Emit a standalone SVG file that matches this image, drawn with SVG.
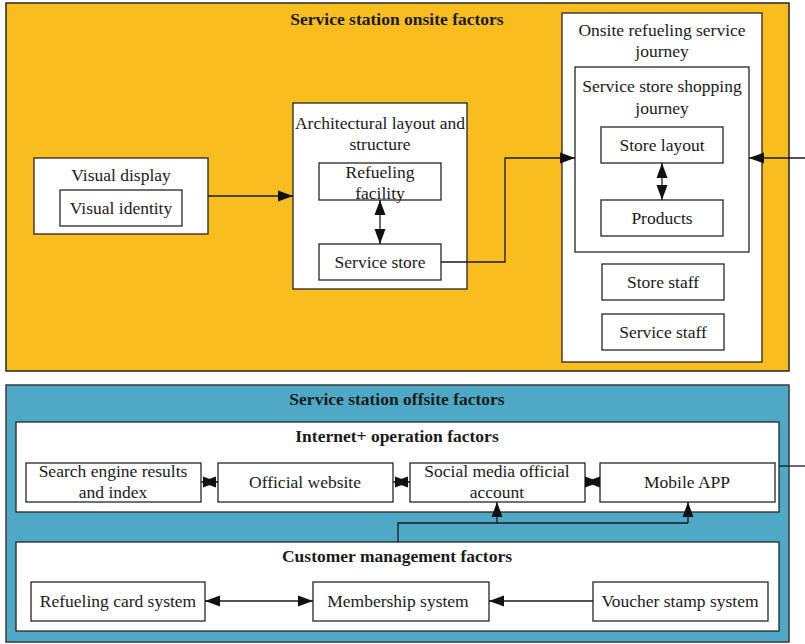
<svg xmlns="http://www.w3.org/2000/svg" width="805" height="644" viewBox="0 0 805 644">
  <style>
    text { font-family: "Liberation Serif", "Times New Roman", serif; font-size: 17.5px; fill: #1a1a1a; text-anchor: middle; }
    .title { font-weight: bold; }
    .box { fill: #ffffff; stroke: #262626; stroke-width: 1.3; }
    .onsite { fill: #F8BD1E; stroke: #262626; stroke-width: 1.5; }
    .offsite { fill: #4DA9C5; stroke: #3a3a3a; stroke-width: 1.5; }
    .wire { fill: none; stroke: #1a1a1a; stroke-width: 1.3; }
  </style>
  <defs>
    <marker id="head" markerUnits="userSpaceOnUse" markerWidth="16" markerHeight="12" refX="15" refY="6" orient="auto-start-reverse">
      <path d="M0,0.5 L15,6 L0,11.5 z" fill="#111"/>
    </marker>
  </defs>

  <!-- panels -->
  <g id="onsite-panel">
    <rect class="onsite" x="6" y="3" width="783" height="368"/>
    <text class="title" x="397" y="25">Service station onsite factors</text>
  </g>
  <g id="offsite-panel">
    <rect class="offsite" x="6" y="385" width="783" height="257"/>
    <text class="title" x="397" y="405">Service station offsite factors</text>
  </g>

  <!-- onsite nodes -->
  <g id="visual-display">
    <rect class="box" x="34" y="158" width="174" height="76"/>
    <text x="121" y="181">Visual display</text>
  </g>
  <g id="visual-identity">
    <rect class="box" x="60" y="190" width="122" height="36"/>
    <text x="121" y="214">Visual identity</text>
  </g>
  <g id="architecture">
    <rect class="box" x="293" y="103" width="174" height="186"/>
    <text x="380" y="129">Architectural layout and</text>
    <text x="380" y="150">structure</text>
  </g>
  <g id="refueling-facility">
    <rect class="box" x="319" y="163" width="122" height="37"/>
    <text x="380" y="178">Refueling</text>
    <text x="380" y="199">facility</text>
  </g>
  <g id="service-store">
    <rect class="box" x="319" y="244" width="122" height="36"/>
    <text x="380" y="268">Service store</text>
  </g>
  <g id="refueling-journey">
    <rect class="box" x="562" y="13" width="200" height="349"/>
    <text x="662" y="36">Onsite refueling service</text>
    <text x="662" y="57">journey</text>
  </g>
  <g id="shopping-journey">
    <rect class="box" x="575" y="67" width="174" height="185"/>
    <text x="662" y="92">Service store shopping</text>
    <text x="662" y="114">journey</text>
  </g>
  <g id="store-layout">
    <rect class="box" x="601" y="127" width="122" height="36"/>
    <text x="662" y="151">Store layout</text>
  </g>
  <g id="products">
    <rect class="box" x="601" y="200" width="122" height="36"/>
    <text x="662" y="224">Products</text>
  </g>
  <g id="store-staff">
    <rect class="box" x="602" y="264" width="122" height="36"/>
    <text x="663" y="288">Store staff</text>
  </g>
  <g id="service-staff">
    <rect class="box" x="602" y="314" width="122" height="36"/>
    <text x="663" y="338">Service staff</text>
  </g>

  <!-- offsite nodes -->
  <g id="internet-factors">
    <rect class="box" x="16" y="422" width="763" height="90"/>
    <text class="title" x="397" y="442">Internet+ operation factors</text>
  </g>
  <g id="search-engine">
    <rect class="box" x="26" y="463" width="175" height="39"/>
    <text x="113" y="477">Search engine results</text>
    <text x="113" y="498">and index</text>
  </g>
  <g id="official-website">
    <rect class="box" x="218" y="463" width="175" height="39"/>
    <text x="305" y="488">Official website</text>
  </g>
  <g id="social-media">
    <rect class="box" x="410" y="463" width="175" height="39"/>
    <text x="497" y="477">Social media official</text>
    <text x="497" y="498">account</text>
  </g>
  <g id="mobile-app">
    <rect class="box" x="600" y="463" width="175" height="39"/>
    <text x="687" y="488">Mobile APP</text>
  </g>
  <g id="customer-factors">
    <rect class="box" x="16" y="542" width="763" height="89"/>
    <text class="title" x="397" y="562">Customer management factors</text>
  </g>
  <g id="refueling-card">
    <rect class="box" x="31" y="582" width="174" height="39"/>
    <text x="118" y="607">Refueling card system</text>
  </g>
  <g id="membership">
    <rect class="box" x="313" y="582" width="176" height="39"/>
    <text x="398" y="607">Membership system</text>
  </g>
  <g id="voucher">
    <rect class="box" x="593" y="582" width="175" height="39"/>
    <text x="680" y="607">Voucher stamp system</text>
  </g>

  <!-- connectors -->
  <g id="connectors">
    <line class="wire" x1="208" y1="196" x2="293" y2="196" marker-end="url(#head)"/>
    <line class="wire" x1="380" y1="200" x2="380" y2="244" marker-start="url(#head)" marker-end="url(#head)"/>
    <polyline class="wire" points="441,262 505,262 505,158 575,158" marker-end="url(#head)"/>
    <line class="wire" x1="662" y1="163" x2="662" y2="200" marker-start="url(#head)" marker-end="url(#head)"/>
    <line class="wire" x1="805" y1="158" x2="749" y2="158" marker-end="url(#head)"/>
    <line class="wire" x1="779" y1="466" x2="805" y2="466"/>

    <line class="wire" x1="201" y1="482" x2="218" y2="482" marker-start="url(#head)" marker-end="url(#head)"/>
    <line class="wire" x1="393" y1="482" x2="410" y2="482" marker-start="url(#head)" marker-end="url(#head)"/>
    <line class="wire" x1="585" y1="482" x2="600" y2="482" marker-start="url(#head)" marker-end="url(#head)"/>

    <polyline class="wire" points="398,542 398,523 688,523"/>
    <line class="wire" x1="497" y1="523" x2="497" y2="502" marker-end="url(#head)"/>
    <line class="wire" x1="688" y1="523" x2="688" y2="502" marker-end="url(#head)"/>

    <line class="wire" x1="205" y1="601" x2="313" y2="601" marker-start="url(#head)" marker-end="url(#head)"/>
    <line class="wire" x1="593" y1="601" x2="489" y2="601" marker-end="url(#head)"/>
  </g>
</svg>
